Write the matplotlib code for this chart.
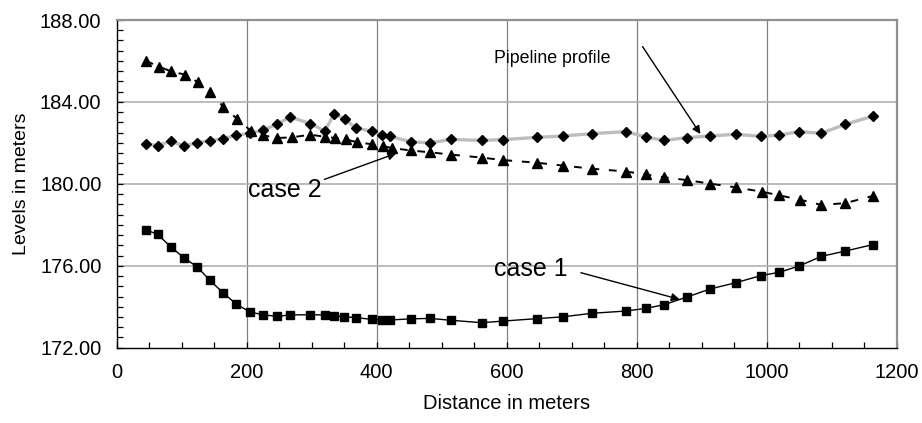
import matplotlib
matplotlib.use("Agg")
import matplotlib.pyplot as plt
from matplotlib.ticker import MultipleLocator, FormatStrFormatter

plt.rcParams['font.family'] = ['Liberation Sans', 'DejaVu Sans']

# Case 1 (squares)
case1_x = [45, 63, 83, 103, 124, 143, 164, 184, 205, 225, 246, 267, 298, 320, 334, 350,
           368, 393, 408, 420, 452, 482, 514, 562, 594, 647, 687, 731, 783, 814, 842, 877,
           913, 952, 991, 1019, 1050, 1084, 1121, 1163]
case1_y = [177.76, 177.53, 176.93, 176.40, 175.94, 175.30, 174.67, 174.13, 173.74, 173.61,
           173.53, 173.60, 173.61, 173.60, 173.56, 173.51, 173.47, 173.38, 173.37, 173.35,
           173.41, 173.43, 173.34, 173.22, 173.30, 173.42, 173.51, 173.68, 173.79, 173.92,
           174.10, 174.47, 174.87, 175.17, 175.52, 175.68, 175.99, 176.46, 176.72, 177.03]

# Pipeline profile (diamonds)
pipe_x = [45, 63, 83, 103, 124, 143, 164, 184, 205, 225, 246, 267, 298, 320, 335, 351,
          368, 393, 408, 420, 452, 482, 514, 562, 594, 647, 687, 731, 783, 814, 842, 878,
          913, 952, 991, 1019, 1050, 1084, 1121, 1163]
pipe_y = [181.96, 181.86, 182.09, 181.85, 182.01, 182.11, 182.21, 182.37, 182.48, 182.61,
          182.91, 183.26, 182.94, 182.58, 183.43, 183.15, 182.73, 182.56, 182.40, 182.32,
          182.06, 182.00, 182.17, 182.12, 182.16, 182.27, 182.34, 182.45, 182.55, 182.29,
          182.12, 182.26, 182.34, 182.42, 182.32, 182.38, 182.55, 182.47, 182.91, 183.30]

# Case 2 (triangles)
case2_x = [45, 65, 84, 105, 125, 143, 164, 185, 206, 225, 247, 269, 298, 320, 336, 352,
           369, 393, 409, 423, 452, 482, 514, 562, 595, 647, 687, 731, 784, 814, 842, 878,
           913, 952, 992, 1019, 1051, 1084, 1121, 1163]
case2_y = [186.01, 185.72, 185.49, 185.33, 184.96, 184.47, 183.77, 183.18, 182.60, 182.37,
           182.24, 182.27, 182.40, 182.30, 182.24, 182.17, 182.04, 181.93, 181.85, 181.75,
           181.63, 181.54, 181.43, 181.28, 181.16, 181.03, 180.89, 180.74, 180.60, 180.46,
           180.32, 180.18, 180.01, 179.83, 179.62, 179.44, 179.23, 178.97, 179.06, 179.41]

x_ticks = [0, 200, 400, 600, 800, 1000, 1200]
y_ticks = [172, 176, 180, 184, 188]

fig = plt.figure(figsize=(9.22, 4.23), dpi=100)
ax = fig.add_axes([0.1266, 0.178, 0.846, 0.7747])

ax.set_xlim(0, 1200)
ax.set_ylim(172, 188)

# grid
for xv in x_ticks[1:-1]:
    ax.axvline(xv, color='#808080', lw=0.9, zorder=0)
for yv in y_ticks[1:-1]:
    ax.axhline(yv, color='#b0b0b0', lw=1.2, zorder=0)

ax.plot(pipe_x, pipe_y, color='#bdbdbd', lw=2.4, zorder=2)
ax.plot(pipe_x, pipe_y, ls='none', marker='D', ms=5.5, color='black', zorder=3)
ax.plot(case2_x, case2_y, color='black', lw=1.4, dashes=(4, 5), marker='^', ms=7, zorder=3)
ax.plot(case1_x, case1_y, color='black', lw=1.0, marker='s', ms=5.5, zorder=3)

ax.set_xticks(x_ticks)
ax.set_yticks(y_ticks)
ax.xaxis.set_minor_locator(MultipleLocator(50))
ax.yaxis.set_minor_locator(MultipleLocator(0.5))
ax.yaxis.set_major_formatter(FormatStrFormatter('%.2f'))
ax.tick_params(which='both', direction='in', length=4, width=0.9, labelsize=14.5)
ax.tick_params(axis='y', which='both', pad=11)
ax.tick_params(axis='x', which='both', pad=11)
ax.tick_params(top=False, right=False, which='both')

for s in ['top', 'right']:
    ax.spines[s].set_color('#909090')
    ax.spines[s].set_linewidth(1.6)
for s in ['left', 'bottom']:
    ax.spines[s].set_color('black')
    ax.spines[s].set_linewidth(1.0)

ax.set_xlabel('Distance in meters', fontsize=14.5, labelpad=9)
ax.set_ylabel('Levels in meters', fontsize=14, labelpad=7)

ax.annotate('case 2', xy=(430, 181.49), xytext=(202, 179.7), fontsize=18,
            ha='left', va='center',
            arrowprops=dict(arrowstyle='-|>', color='black', lw=1.0,
                            shrinkA=0, shrinkB=0, mutation_scale=12,
                            relpos=(1.0, 0.9)))
ax.annotate('case 1', xy=(866, 174.36), xytext=(580, 175.84), fontsize=18,
            ha='left', va='center',
            arrowprops=dict(arrowstyle='-|>', color='black', lw=1.0,
                            shrinkA=8, shrinkB=0, mutation_scale=12,
                            relpos=(1.0, 0.5)))
ax.annotate('', xy=(898, 182.43), xytext=(809, 186.7),
            arrowprops=dict(arrowstyle='-|>', color='black', lw=1.0,
                            shrinkA=0, shrinkB=0, mutation_scale=12))
ax.text(580, 186.14, 'Pipeline profile', fontsize=12.8, ha='left', va='center')

fig.savefig('out.png', dpi=100)
